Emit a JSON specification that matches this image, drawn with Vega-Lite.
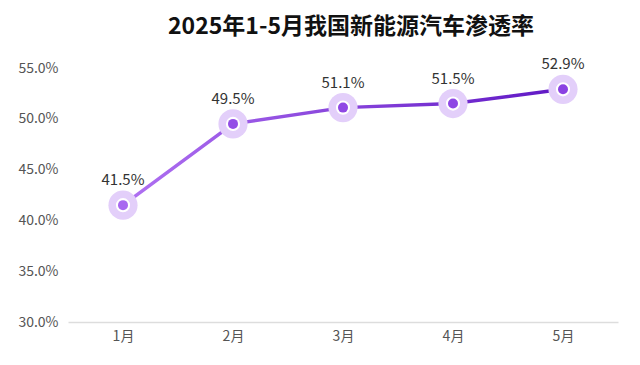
{
  "$schema": "https://vega.github.io/schema/vega-lite/v6.json",
  "width": 550,
  "height": 254,
  "autosize": {"type": "none"},
  "padding": {"left": 68, "top": 68, "right": 22, "bottom": 43},
  "background": "white",
  "config": {"view": {"stroke": null}, "font": "Noto Sans CJK SC"},
  "title": {
    "text": "2025年1-5月我国新能源汽车渗透率",
    "fontSize": 23,
    "fontWeight": "bold",
    "color": "#111111",
    "font": "Noto Sans CJK SC",
    "anchor": "middle",
    "offset": 18,
    "dx": 8
  },
  "data": {
    "values": [
      {"month": "1月", "rate": 41.5},
      {"month": "2月", "rate": 49.5},
      {"month": "3月", "rate": 51.1},
      {"month": "4月", "rate": 51.5},
      {"month": "5月", "rate": 52.9}
    ]
  },
  "encoding": {
    "x": {
      "field": "month",
      "type": "ordinal",
      "sort": null,
      "scale": {"type": "point", "padding": 0.5},
      "axis": {
        "title": null,
        "labelAngle": 0,
        "labelFontSize": 14,
        "labelColor": "#555555",
        "labelPadding": 7,
        "ticks": false,
        "domainColor": "#dddddd",
        "domainWidth": 1.5,
        "grid": false
      }
    },
    "y": {
      "field": "rate",
      "type": "quantitative",
      "scale": {"domain": [30, 55], "nice": false, "zero": false},
      "axis": {
        "title": null,
        "values": [30, 35, 40, 45, 50, 55],
        "labelExpr": "format(datum.value, '.1f') + '%'",
        "labelFontSize": 14,
        "labelColor": "#555555",
        "labelPadding": 10,
        "ticks": false,
        "domain": false,
        "grid": false
      }
    }
  },
  "layer": [
    {
      "mark": {
        "type": "line",
        "strokeWidth": 3.5,
        "color": {
          "gradient": "linear",
          "x1": 0, "y1": 0, "x2": 1, "y2": 0,
          "stops": [
            {"offset": 0, "color": "#b071f2"},
            {"offset": 1, "color": "#5f17c4"}
          ]
        }
      }
    },
    {
      "mark": {"type": "point", "filled": true, "size": 850, "color": "#e3cffa", "opacity": 1}
    },
    {
      "mark": {"type": "point", "filled": true, "size": 200, "color": "#ffffff", "opacity": 1}
    },
    {
      "mark": {"type": "point", "filled": true, "size": 100, "opacity": 1},
      "encoding": {
        "color": {
          "field": "rate",
          "type": "quantitative",
          "scale": {"domain": [41.5, 52.9], "range": ["#a868f0", "#8a42e2"]},
          "legend": null
        }
      }
    },
    {
      "transform": [{"calculate": "format(datum.rate, '.1f') + '%'", "as": "label"}],
      "mark": {"type": "text", "dy": -25, "fontSize": 15, "color": "#333333"},
      "encoding": {
        "text": {"field": "label", "type": "nominal"}
      }
    }
  ]
}
